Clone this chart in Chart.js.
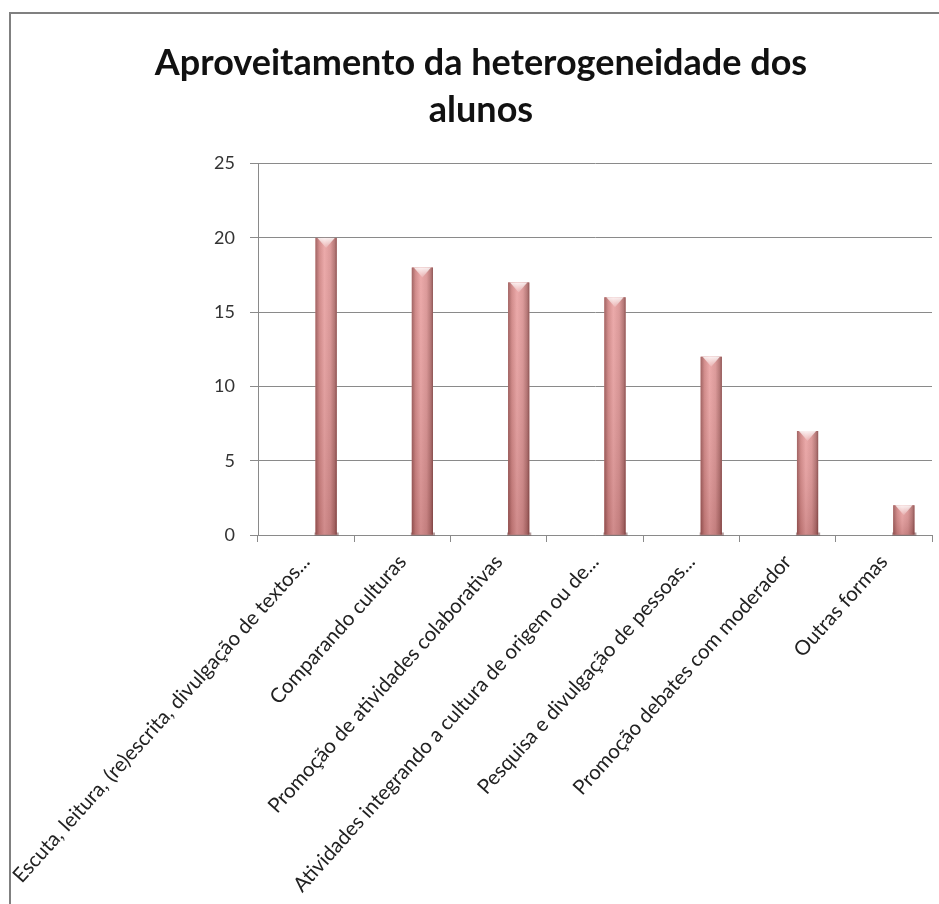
<!DOCTYPE html>
<html>
<head>
<meta charset="utf-8">
<title>Aproveitamento da heterogeneidade dos alunos</title>
<script src="https://cdn.jsdelivr.net/npm/chart.js@4.4.1/dist/chart.umd.min.js"></script>
<style>
  html, body { margin: 0; padding: 0; background: #fff; overflow: hidden; }
  canvas { display: block; }
</style>
</head>
<body>
<canvas id="chart" width="939" height="904"></canvas>
<script>
const categories = [
  'Escuta, leitura, (re)escrita, divulgação de textos...',
  'Comparando culturas',
  'Promoção de atividades colaborativas',
  'Atividades integrando a cultura de origem ou de...',
  'Pesquisa e divulgação de pessoas...',
  'Promoção debates com moderador',
  'Outras formas'
]
const respostas = [20, 18, 17, 16, 12, 7, 2]
// empty front slot so the columns sit to the right of each category, like the 3D Excel look
const vazio = categories.map(() => null)

const yMax = 25
const yStep = 5

// grey frame of the chart box (left and top edges), white beyond the right edge
const chartFrame = {
  id: 'chartFrame',
  beforeDraw(chart) {
    const ctx = chart.ctx
    ctx.save()
    ctx.fillStyle = '#fff'
    ctx.fillRect(0, 0, chart.width, chart.height)
    ctx.strokeStyle = '#808080'
    ctx.lineWidth = 2
    ctx.beginPath()
    ctx.moveTo(10, chart.height)
    ctx.lineTo(10, 13)
    ctx.lineTo(chart.width, 13)
    ctx.stroke()
    ctx.restore()
  },
  afterDraw(chart) {
    const ctx = chart.ctx
    ctx.save()
    ctx.fillStyle = '#fff'
    ctx.fillRect(chart.width - 4, 15, 4, chart.height - 15)
    ctx.restore()
  }
}

// paints the cylinder-ish shading on top of each column
const columnShading = {
  id: 'columnShading',
  afterDatasetDraw(chart, args) {
    if (args.index !== 1) return
    const ctx = chart.ctx
    args.meta.data.forEach((bar) => {
      const { x, y, base, width } = bar.getProps(['x', 'y', 'base', 'width'], true)
      const left = x - width / 2
      const h = base - y

      // dark footprint under the column
      ctx.save()
      ctx.fillStyle = 'rgba(90, 40, 40, 0.45)'
      ctx.fillRect(left - 1, base - 2, width + 3, 3)
      ctx.restore()

      const g = ctx.createLinearGradient(left, 0, left + width, 0)
      g.addColorStop(0, '#9a5857')
      g.addColorStop(0.18, '#cf8483')
      g.addColorStop(0.42, '#eaa3a3')
      g.addColorStop(0.7, '#d99292')
      g.addColorStop(0.9, '#b06e6d')
      g.addColorStop(1, '#864a4a')
      ctx.save()
      ctx.fillStyle = g
      ctx.fillRect(left, y, width, h)

      // slightly darker towards the base
      const v = ctx.createLinearGradient(0, y, 0, base)
      v.addColorStop(0, 'rgba(255, 255, 255, 0.08)')
      v.addColorStop(1, 'rgba(90, 30, 30, 0.18)')
      ctx.fillStyle = v
      ctx.fillRect(left, y, width, h)

      // highlight on the top edge
      const hl = ctx.createLinearGradient(0, y, 0, y + 12)
      hl.addColorStop(0, 'rgba(255, 255, 255, 0.85)')
      hl.addColorStop(1, 'rgba(255, 255, 255, 0)')
      ctx.fillStyle = hl
      ctx.beginPath()
      ctx.moveTo(left + 2, y)
      ctx.lineTo(left + width - 2, y)
      ctx.lineTo(x, y + 10)
      ctx.closePath()
      ctx.fill()
      ctx.restore()
    })
  }
}

const ctx = document.getElementById('chart')
new Chart(ctx, {
  type: 'bar',
  data: {
    labels: categories,
    datasets: [
      { label: '', data: vazio, backgroundColor: 'rgba(0,0,0,0)' },
      {
        label: 'Respostas',
        data: respostas,
        backgroundColor: '#d48c8b',
        borderWidth: 0
      }
    ]
  },
  options: {
    responsive: false,
    animation: false,
    categoryPercentage: 0.83,
    barPercentage: 0.53,
    layout: { padding: { left: 30, right: 7, top: 0, bottom: 0 } },
    plugins: {
      legend: { display: false },
      tooltip: { enabled: false },
      title: {
        display: true,
        text: ['Aproveitamento da heterogeneidade dos', 'alunos'],
        color: '#111',
        font: { family: 'Lato', size: 36, weight: 'bold', lineHeight: 1.3 },
        padding: { top: 40, bottom: 30 }
      }
    },
    scales: {
      x: {
        offset: true,
        border: { color: '#8a8a8a', width: 1 },
        grid: {
          offset: true,
          drawOnChartArea: false,
          drawTicks: true,
          tickLength: 7,
          color: '#8a8a8a'
        },
        ticks: {
          minRotation: 48,
          maxRotation: 48,
          autoSkip: false,
          padding: 8,
          color: '#222',
          font: { family: 'Lato', size: 20.5 }
        },
        afterFit(scale) {
          scale.height = 904 - 535
          scale.paddingLeft = 0
          scale.paddingRight = 0
        }
      },
      y: {
        min: 0,
        max: yMax,
        border: { color: '#8a8a8a', width: 1 },
        grid: { color: '#8a8a8a', tickLength: 8 },
        ticks: {
          stepSize: yStep,
          padding: 15,
          color: '#333',
          font: { family: 'Lato', size: 18 }
        },
        afterFit(scale) { scale.width = 228 }
      }
    }
  },
  plugins: [chartFrame, columnShading]
})
</script>
</body>
</html>
